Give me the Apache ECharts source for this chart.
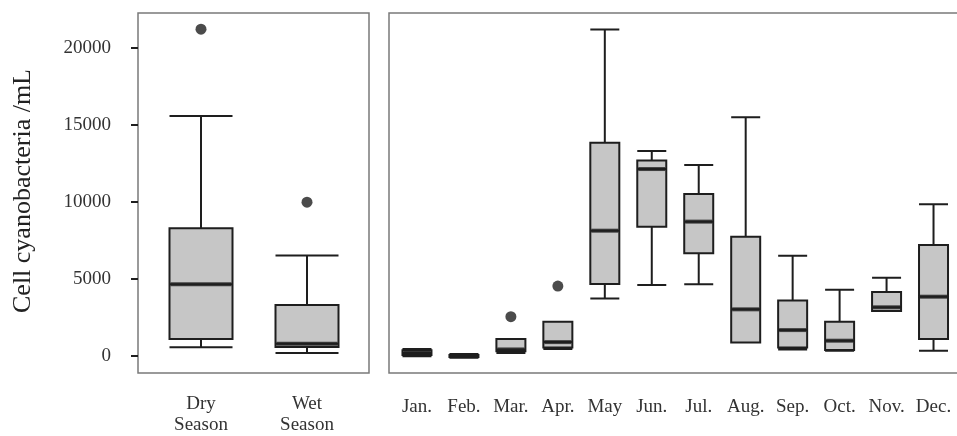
<!DOCTYPE html>
<html>
<head>
<meta charset="utf-8">
<script src="https://cdn.jsdelivr.net/npm/echarts@6/dist/echarts.min.js"></script>
<style>
  html, body { margin: 0; padding: 0; background: #fff; }
  #main { width: 957px; height: 436px; }
</style>
</head>
<body>
<div id="main"></div>
<script>
// seasons panel: [min, Q1, median, Q3, max]
var seasons = ['Dry\nSeason', 'Wet\nSeason'];
var seasonBox = [
    [580, 1110, 4660, 8290, 15560],
    [210, 600, 810, 3310, 6520]
];
var seasonOut = [[0, 21190], [1, 9980]];

// months panel
var months = ['Jan.', 'Feb.', 'Mar.', 'Apr.', 'May', 'Jun.', 'Jul.', 'Aug.', 'Sep.', 'Oct.', 'Nov.', 'Dec.'];
var monthBox = [
    [250, 330, 450, 620, 700],
    [150, 200, 260, 330, 380],
    [450, 560, 680, 1350, 1350],
    [700, 800, 1150, 2460, 2460],
    [3950, 4870, 8290, 13930, 21190],
    [4810, 8550, 12240, 12780, 13400],
    [4850, 6840, 8870, 10640, 12500],
    [1130, 1130, 3250, 7900, 15560],
    [680, 810, 1920, 3820, 6690],
    [600, 640, 1240, 2460, 4510],
    [3140, 3140, 3380, 4360, 5280],
    [600, 1350, 4060, 7370, 9980]
];
var monthOut = [[2, 2780], [3, 4740]];

var yTicks = [0, 5000, 10000, 15000, 20000];
var yMin = -830, yMax = 22240;

var chart = echarts.init(document.getElementById('main'));

var font = 'Liberation Serif';
var ink = '#1e1e1e';

function medians(boxes) {
    return boxes.map(function (b, i) { return [i, b[2]]; });
}

option = {
    backgroundColor: '#fff',
    animation: false,
    textStyle: { fontFamily: font },
    grid: [
        { left: 148, width: 212, top: 13, bottom: 63 },
        { left: 393.5, width: 571, top: 13, bottom: 63 }
    ],
    xAxis: [
        {
            type: 'category', gridIndex: 0, data: seasons,
            axisLine: { show: false }, axisTick: { show: false },
            axisLabel: { color: '#333', fontSize: 19, fontFamily: font, margin: 25, lineHeight: 21 }
        },
        {
            type: 'category', gridIndex: 1, data: months,
            axisLine: { show: false }, axisTick: { show: false },
            axisLabel: { color: '#333', fontSize: 19, fontFamily: font, margin: 25, interval: 0 }
        }
    ],
    yAxis: [
        {
            type: 'value', gridIndex: 0, min: yMin, max: yMax, offset: 10,
            name: 'Cell cyanobacteria /mL', nameLocation: 'middle', nameGap: 102,
            nameTextStyle: { fontSize: 26, fontFamily: font, color: '#222' },
            axisLine: { show: false },
            axisTick: { show: true, length: 7, customValues: yTicks, lineStyle: { color: ink, width: 2 } },
            axisLabel: {
                customValues: yTicks, color: '#333', fontSize: 19, fontFamily: font, margin: 27,
                formatter: function (v) { return String(v); }
            },
            splitLine: { show: false }
        },
        {
            type: 'value', gridIndex: 1, min: yMin, max: yMax, show: false
        }
    ],
    graphic: [
        { type: 'rect', shape: { x: 138, y: 13, width: 231, height: 360 },
          style: { fill: 'none', stroke: '#7a7a7a', lineWidth: 1.5 }, z: 0 },
        { type: 'rect', shape: { x: 389, y: 13, width: 620, height: 360 },
          style: { fill: 'none', stroke: '#7a7a7a', lineWidth: 1.5 }, z: 0 }
    ],
    series: [
        {
            type: 'boxplot', xAxisIndex: 0, yAxisIndex: 0, data: seasonBox,
            boxWidth: [63, 63],
            itemStyle: { color: '#c6c6c6', borderColor: ink, borderWidth: 2 }
        },
        {
            type: 'scatter', xAxisIndex: 0, yAxisIndex: 0, data: medians(seasonBox),
            symbol: 'rect', symbolSize: [61, 4], itemStyle: { color: ink }, z: 5
        },
        {
            type: 'scatter', xAxisIndex: 0, yAxisIndex: 0, data: seasonOut,
            symbolSize: 11, itemStyle: { color: ink }
        },
        {
            type: 'boxplot', xAxisIndex: 1, yAxisIndex: 1, data: monthBox,
            boxWidth: [29, 29],
            itemStyle: { color: '#c6c6c6', borderColor: ink, borderWidth: 2 }
        },
        {
            type: 'scatter', xAxisIndex: 1, yAxisIndex: 1, data: medians(monthBox),
            symbol: 'rect', symbolSize: [27, 4], itemStyle: { color: ink }, z: 5
        },
        {
            type: 'scatter', xAxisIndex: 1, yAxisIndex: 1, data: monthOut,
            symbolSize: 11, itemStyle: { color: ink }
        }
    ]
};

chart.setOption(option);
</script>
</body>
</html>
